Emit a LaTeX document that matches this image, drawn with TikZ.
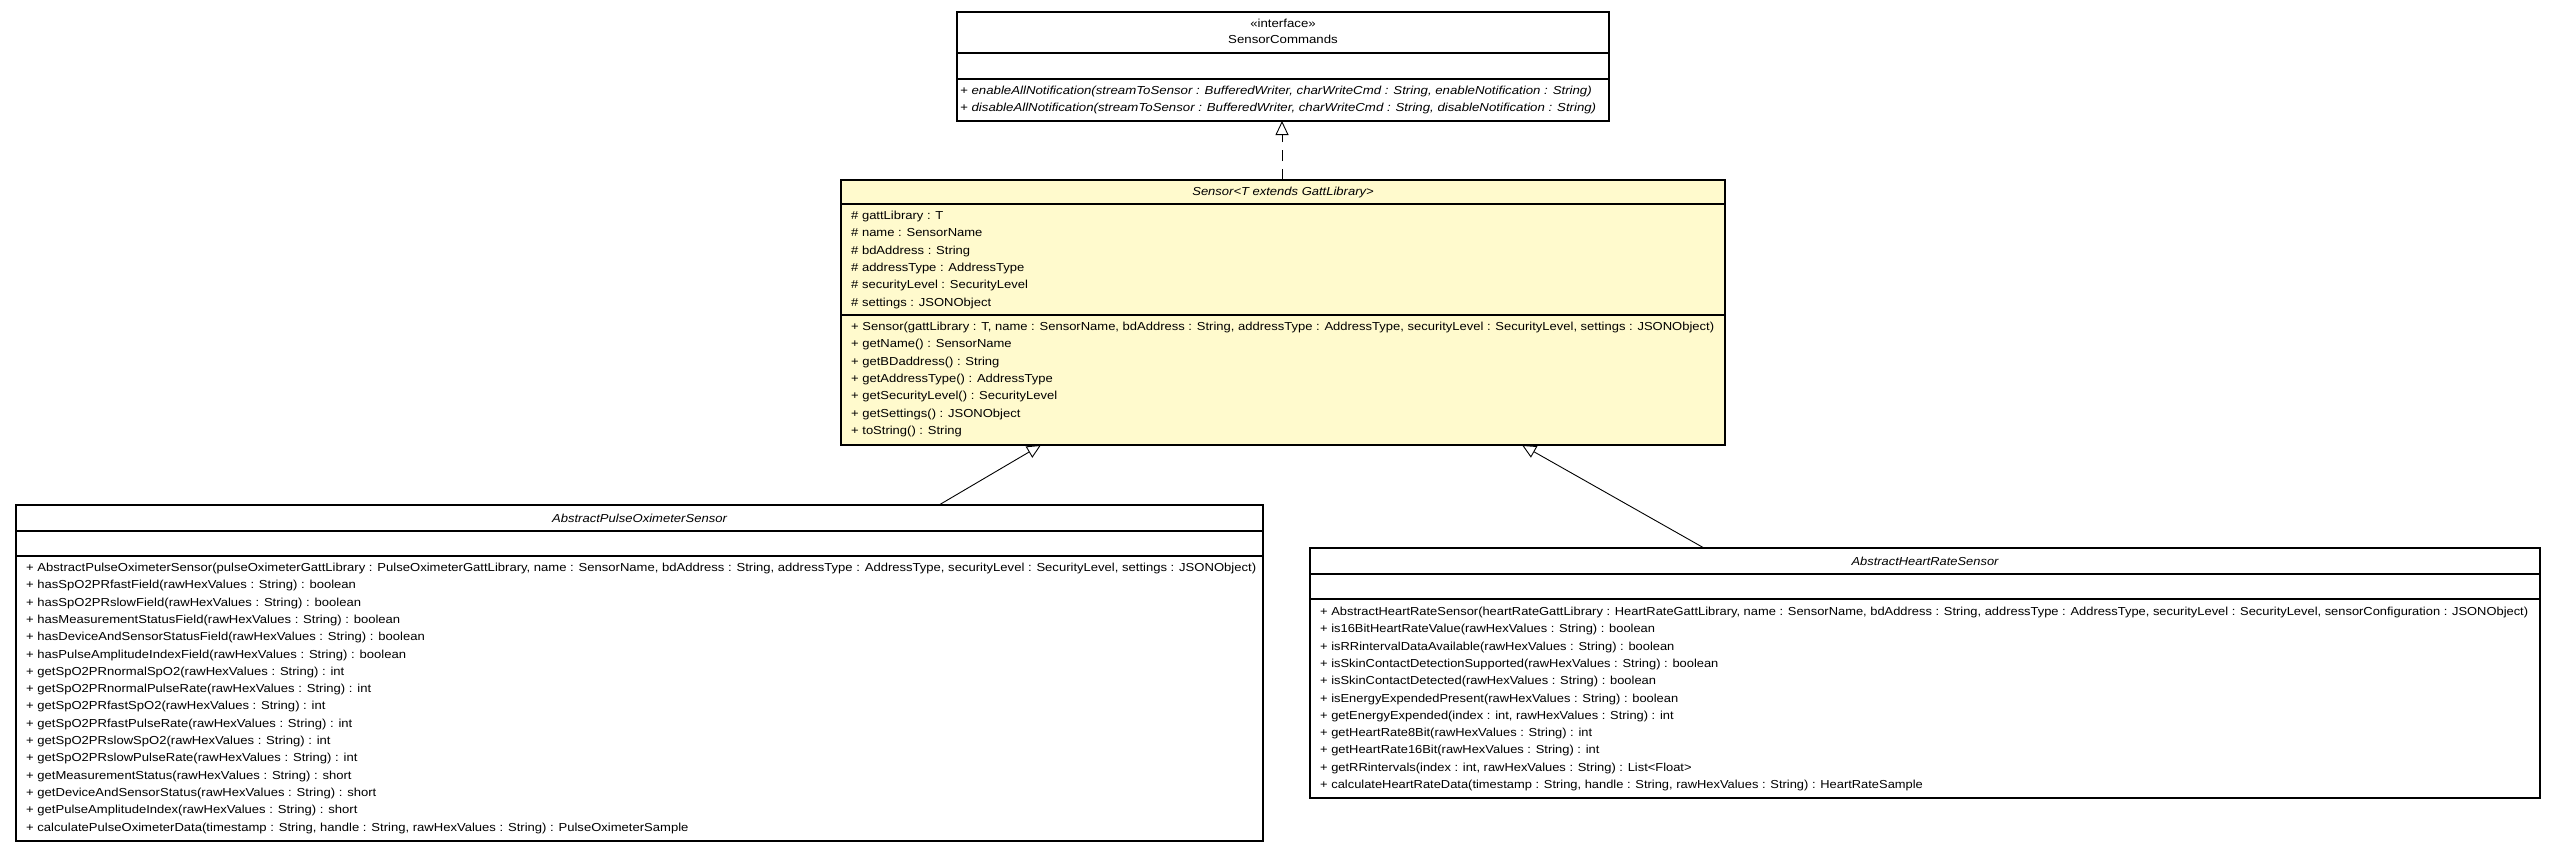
\documentclass[tikz,border=0pt]{standalone}
\usepackage{fontspec}
\usepackage{graphicx}
\setmainfont{Liberation Sans}
\usetikzlibrary{arrows.meta,calc}
\definecolor{sensorfill}{RGB}{255,250,205}
\newsavebox\measbox
\newcommand\rowfont{\fontsize{11.6}{14}\selectfont}
\newcommand\fitk[3]{\sbox\measbox{#2}\pgfmathsetmacro#1{#3/\the\wd\measbox}}
\begin{document}
% horizontal fitting factors: widest line of each box fills its box as in the reference
\fitk\kc{\rowfont\itshape + disableAllNotification(streamToSensor : BufferedWriter, charWriteCmd : String, disableNotification : String)}{636}%
\fitk\ks{\rowfont + Sensor(gattLibrary : T, name : SensorName, bdAddress : String, addressType : AddressType, securityLevel : SecurityLevel, settings : JSONObject)}{863}%
\fitk\kp{\rowfont + AbstractPulseOximeterSensor(pulseOximeterGattLibrary : PulseOximeterGattLibrary, name : SensorName, bdAddress : String, addressType : AddressType, securityLevel : SecurityLevel, settings : JSONObject)}{1230}%
\fitk\kh{\rowfont + AbstractHeartRateSensor(heartRateGattLibrary : HeartRateGattLibrary, name : SensorName, bdAddress : String, addressType : AddressType, securityLevel : SecurityLevel, sensorConfiguration : JSONObject)}{1208}%
\begin{tikzpicture}[x=1pt,y=-1pt,
  box/.style={draw=black, line width=1.3pt, anchor=north west, inner sep=0pt, outer sep=0pt},
  sep/.style={line width=1.3pt},
  row/.style={anchor=base west, inner sep=0pt, font=\rowfont},
  ttl/.style={anchor=base, inner sep=0pt, font=\rowfont},
  gen/.style={line width=0.9pt, -{Triangle[open, length=14pt, width=13pt, line width=0.9pt]}},
  real/.style={gen, dash pattern=on 11pt off 8pt}]
\useasboundingbox (0,0) rectangle (2557,852);

% ---------------- SensorCommands ----------------
\node[box, fill=white, minimum width=652pt, minimum height=109pt] (cmd) at (957,12) {};
\draw[sep] ($(cmd.north west)+(0,41)$) -- ($(cmd.north east)+(0,41)$);
\draw[sep] ($(cmd.north west)+(0,67)$) -- ($(cmd.north east)+(0,67)$);
\node[ttl] (cmdst) at (1283,27) {\scalebox{\kc}[1]{«interface»}};
\node[ttl] (cmdname) at (1283,43) {\scalebox{\kc}[1]{SensorCommands}};
\node[row, font=\rowfont\itshape] (cmdm0) at (960,94.5) {\scalebox{\kc}[1]{+ enableAllNotification(streamToSensor : BufferedWriter, charWriteCmd : String, enableNotification : String)}};
\node[row, font=\rowfont\itshape] (cmdm1) at (960,111.9) {\scalebox{\kc}[1]{+ disableAllNotification(streamToSensor : BufferedWriter, charWriteCmd : String, disableNotification : String)}};

% ---------------- Sensor ----------------
\node[box, fill=sensorfill, minimum width=884pt, minimum height=265pt] (sensor) at (841,180) {};
\draw[sep] ($(sensor.north west)+(0,24)$) -- ($(sensor.north east)+(0,24)$);
\draw[sep] ($(sensor.north west)+(0,135)$) -- ($(sensor.north east)+(0,135)$);
\node[ttl, font=\rowfont\itshape] (sensorname) at (1283,195.5) {\scalebox{\ks}[1]{Sensor<T extends GattLibrary>}};
\foreach \t [count=\i from 0] in {%
  {\# gattLibrary : T},
  {\# name : SensorName},
  {\# bdAddress : String},
  {\# addressType : AddressType},
  {\# securityLevel : SecurityLevel},
  {\# settings : JSONObject}}
  \node[row] (sensora\i) at (851,219.5+17.35*\i) {\scalebox{\ks}[1]{\t}};
\foreach \t [count=\i from 0] in {%
  {+ Sensor(gattLibrary : T, name : SensorName, bdAddress : String, addressType : AddressType, securityLevel : SecurityLevel, settings : JSONObject)},
  {+ getName() : SensorName},
  {+ getBDaddress() : String},
  {+ getAddressType() : AddressType},
  {+ getSecurityLevel() : SecurityLevel},
  {+ getSettings() : JSONObject},
  {+ toString() : String}}
  \node[row] (sensorm\i) at (851,330.5+17.35*\i) {\scalebox{\ks}[1]{\t}};

% ---------------- AbstractPulseOximeterSensor ----------------
\node[box, fill=white, minimum width=1247pt, minimum height=336pt] (pulse) at (16,505) {};
\draw[sep] ($(pulse.north west)+(0,26)$) -- ($(pulse.north east)+(0,26)$);
\draw[sep] ($(pulse.north west)+(0,51)$) -- ($(pulse.north east)+(0,51)$);
\node[ttl, font=\rowfont\itshape] (pulsename) at (639.5,522) {\scalebox{\kp}[1]{AbstractPulseOximeterSensor}};
\foreach \t [count=\i from 0] in {%
  {+ AbstractPulseOximeterSensor(pulseOximeterGattLibrary : PulseOximeterGattLibrary, name : SensorName, bdAddress : String, addressType : AddressType, securityLevel : SecurityLevel, settings : JSONObject)},
  {+ hasSpO2PRfastField(rawHexValues : String) : boolean},
  {+ hasSpO2PRslowField(rawHexValues : String) : boolean},
  {+ hasMeasurementStatusField(rawHexValues : String) : boolean},
  {+ hasDeviceAndSensorStatusField(rawHexValues : String) : boolean},
  {+ hasPulseAmplitudeIndexField(rawHexValues : String) : boolean},
  {+ getSpO2PRnormalSpO2(rawHexValues : String) : int},
  {+ getSpO2PRnormalPulseRate(rawHexValues : String) : int},
  {+ getSpO2PRfastSpO2(rawHexValues : String) : int},
  {+ getSpO2PRfastPulseRate(rawHexValues : String) : int},
  {+ getSpO2PRslowSpO2(rawHexValues : String) : int},
  {+ getSpO2PRslowPulseRate(rawHexValues : String) : int},
  {+ getMeasurementStatus(rawHexValues : String) : short},
  {+ getDeviceAndSensorStatus(rawHexValues : String) : short},
  {+ getPulseAmplitudeIndex(rawHexValues : String) : short},
  {+ calculatePulseOximeterData(timestamp : String, handle : String, rawHexValues : String) : PulseOximeterSample}}
  \node[row] (pulsem\i) at (26,571.5+17.3*\i) {\scalebox{\kp}[1]{\t}};

% ---------------- AbstractHeartRateSensor ----------------
\node[box, fill=white, minimum width=1230pt, minimum height=250pt] (heart) at (1310,548) {};
\draw[sep] ($(heart.north west)+(0,26)$) -- ($(heart.north east)+(0,26)$);
\draw[sep] ($(heart.north west)+(0,51)$) -- ($(heart.north east)+(0,51)$);
\node[ttl, font=\rowfont\itshape] (heartname) at (1925,565) {\scalebox{\kh}[1]{AbstractHeartRateSensor}};
\foreach \t [count=\i from 0] in {%
  {+ AbstractHeartRateSensor(heartRateGattLibrary : HeartRateGattLibrary, name : SensorName, bdAddress : String, addressType : AddressType, securityLevel : SecurityLevel, sensorConfiguration : JSONObject)},
  {+ is16BitHeartRateValue(rawHexValues : String) : boolean},
  {+ isRRintervalDataAvailable(rawHexValues : String) : boolean},
  {+ isSkinContactDetectionSupported(rawHexValues : String) : boolean},
  {+ isSkinContactDetected(rawHexValues : String) : boolean},
  {+ isEnergyExpendedPresent(rawHexValues : String) : boolean},
  {+ getEnergyExpended(index : int, rawHexValues : String) : int},
  {+ getHeartRate8Bit(rawHexValues : String) : int},
  {+ getHeartRate16Bit(rawHexValues : String) : int},
  {+ getRRintervals(index : int, rawHexValues : String) : List<Float>},
  {+ calculateHeartRateData(timestamp : String, handle : String, rawHexValues : String) : HeartRateSample}}
  \node[row] (heartm\i) at (1320,615.5+17.3*\i) {\scalebox{\kh}[1]{\t}};

% ---------------- Connectors ----------------
\draw[real] ($(sensor.north west)+(441,0)$) -- ($(cmd.south west)+(325,0)$);
\draw[gen] ($(pulse.north west)+(923,0)$) -- ($(sensor.south west)+(200,0)$);
\draw[gen] ($(heart.north west)+(394,0)$) -- ($(sensor.south west)+(681,0)$);
\end{tikzpicture}
\end{document}
